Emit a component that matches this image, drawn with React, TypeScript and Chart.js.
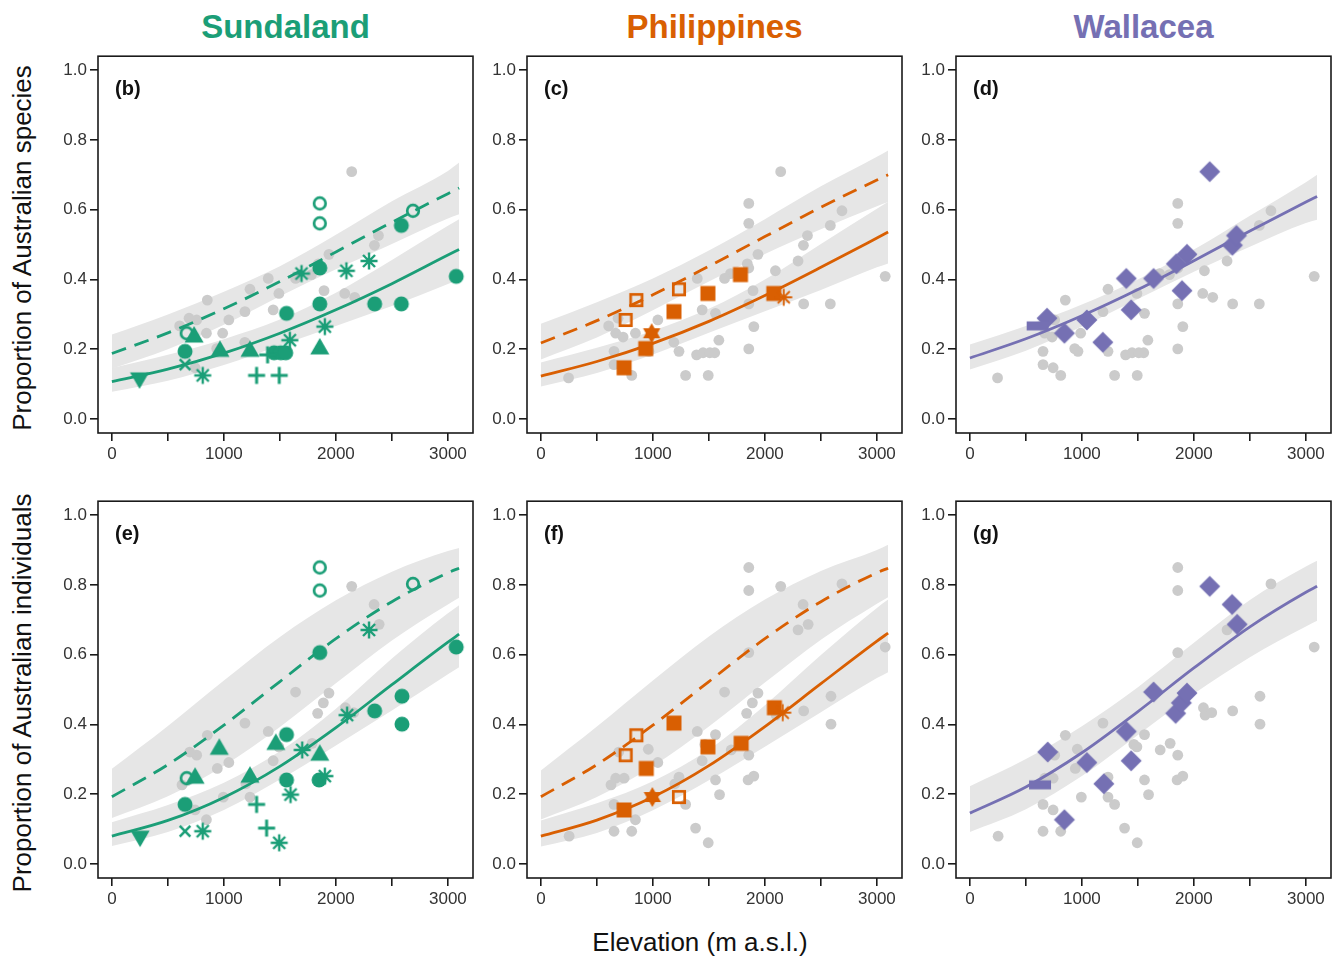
import React, { useEffect, useRef } from 'react';
import { Chart, registerables } from 'chart.js';

Chart.register(...registerables);

const FONT = '"Liberation Sans", Arial, Helvetica, sans-serif';
const GREEN = '#1b9e77';
const ORANGE = '#d95f02';
const PURPLE = '#7570b3';
const GREY_PT = '#cbcbcb';
const BAND = '#e6e6e6';

type Pt = [number, number, string];

// marker group -> shape (mountain / site symbol)
const SHAPES: Record<string, string> = {
  A: 'circle', B: 'ocircle', C: 'tri', D: 'tridown', E: 'x', F: 'ast', G: 'plus',
  H: 'square', I: 'osquare', J: 'hexstar', K: 'ast2',
  L: 'diamond', M: 'bar',
};

// elevations at which the fitted curves / bands are read
const curveX = [0, 500, 1000, 1500, 2000, 2500, 3000, 3100];
const xTicks = [0, 500, 1000, 1500, 2000, 2500, 3000];
const yTicks = [0, 0.2, 0.4, 0.6, 0.8, 1.0];

// ---------- proportion of Australian species ----------
const sundaSpecies: Pt[] = [
  [653, 0.194, 'A'], [1448, 0.19, 'A'], [1508, 0.19, 'A'], [1552, 0.19, 'A'], [1559, 0.303, 'A'],
  [1856, 0.33, 'A'], [1856, 0.433, 'A'], [2346, 0.33, 'A'], [2584, 0.33, 'A'], [2584, 0.555, 'A'], [3074, 0.409, 'A'],
  [668, 0.246, 'B'], [1856, 0.618, 'B'], [1856, 0.561, 'B'], [2688, 0.597, 'B'],
  [734, 0.235, 'C'], [965, 0.194, 'C'], [1233, 0.194, 'C'], [1856, 0.201, 'C'],
  [247, 0.118, 'D'],
  [653, 0.156, 'E'],
  [811, 0.125, 'F'], [1589, 0.226, 'F'], [1901, 0.265, 'F'], [1693, 0.417, 'F'], [2094, 0.425, 'F'], [2296, 0.453, 'F'],
  [1292, 0.125, 'G'], [1494, 0.125, 'G'], [1390, 0.184, 'G'],
];
const philSpecies: Pt[] = [
  [743, 0.147, 'H'], [936, 0.202, 'H'], [1188, 0.308, 'H'], [1491, 0.36, 'H'], [1782, 0.414, 'H'], [2079, 0.36, 'H'],
  [757, 0.284, 'I'], [852, 0.341, 'I'], [1233, 0.372, 'I'],
  [989, 0.246, 'J'],
  [2168, 0.349, 'K'],
];
const wallSpecies: Pt[] = [
  [689, 0.289, 'L'], [844, 0.246, 'L'], [1044, 0.284, 'L'], [1187, 0.22, 'L'], [1396, 0.403, 'L'],
  [1440, 0.313, 'L'], [1640, 0.403, 'L'], [1843, 0.445, 'L'], [1894, 0.368, 'L'], [1938, 0.472, 'L'],
  [2141, 0.709, 'L'], [2344, 0.498, 'L'], [2380, 0.526, 'L'],
  [605, 0.267, 'M'],
];

// ---------- proportion of Australian individuals ----------
const sundaIndiv: Pt[] = [
  [653, 0.171, 'A'], [1559, 0.371, 'A'], [1559, 0.241, 'A'], [1850, 0.241, 'A'], [1856, 0.606, 'A'],
  [2346, 0.439, 'A'], [2590, 0.481, 'A'], [2590, 0.401, 'A'], [3074, 0.622, 'A'],
  [668, 0.246, 'B'], [1856, 0.85, 'B'], [1856, 0.784, 'B'], [2688, 0.803, 'B'],
  [743, 0.246, 'C'], [959, 0.329, 'C'], [1233, 0.249, 'C'], [1464, 0.343, 'C'], [1856, 0.312, 'C'],
  [252, 0.08, 'D'],
  [653, 0.094, 'E'],
  [811, 0.094, 'F'], [1494, 0.061, 'F'], [1595, 0.199, 'F'], [1699, 0.327, 'F'], [1901, 0.252, 'F'], [2100, 0.427, 'F'], [2296, 0.671, 'F'],
  [1292, 0.171, 'G'], [1381, 0.103, 'G'],
];
const philIndiv: Pt[] = [
  [743, 0.155, 'H'], [941, 0.274, 'H'], [1188, 0.404, 'H'], [1491, 0.336, 'H'], [1788, 0.346, 'H'], [2085, 0.448, 'H'],
  [757, 0.312, 'I'], [852, 0.369, 'I'], [1233, 0.192, 'I'],
  [995, 0.192, 'J'],
  [2159, 0.434, 'K'],
];
const wallIndiv: Pt[] = [
  [695, 0.321, 'L'], [844, 0.127, 'L'], [1044, 0.291, 'L'], [1196, 0.23, 'L'], [1396, 0.38, 'L'],
  [1440, 0.296, 'L'], [1640, 0.493, 'L'], [1837, 0.432, 'L'], [1888, 0.462, 'L'], [1938, 0.49, 'L'],
  [2141, 0.796, 'L'], [2341, 0.744, 'L'], [2386, 0.687, 'L'],
  [626, 0.227, 'M'],
];

// ---------- fitted curves (values at curveX) ----------
const bSolid = [0.107, 0.143, 0.189, 0.246, 0.313, 0.388, 0.47, 0.486];
const bSolidLo = [0.078, 0.11, 0.155, 0.211, 0.267, 0.324, 0.387, 0.4];
const bSolidHi = [0.146, 0.184, 0.229, 0.285, 0.362, 0.456, 0.554, 0.573];
const bDash = [0.188, 0.247, 0.316, 0.394, 0.479, 0.564, 0.646, 0.662];
const bDashLo = [0.144, 0.2, 0.27, 0.352, 0.429, 0.502, 0.575, 0.587];
const bDashHi = [0.242, 0.3, 0.365, 0.438, 0.528, 0.624, 0.711, 0.735];

const cSolid = [0.123, 0.165, 0.217, 0.28, 0.354, 0.435, 0.519, 0.536];
const cSolidLo = [0.093, 0.132, 0.185, 0.247, 0.309, 0.37, 0.435, 0.446];
const cSolidHi = [0.162, 0.204, 0.253, 0.316, 0.4, 0.502, 0.603, 0.623];
const cDash = [0.218, 0.282, 0.356, 0.438, 0.523, 0.607, 0.685, 0.7];
const cDashLo = [0.171, 0.234, 0.312, 0.394, 0.473, 0.544, 0.61, 0.622];
const cDashHi = [0.273, 0.335, 0.403, 0.483, 0.573, 0.667, 0.752, 0.77];

const dSolid = [0.175, 0.23, 0.296, 0.371, 0.454, 0.539, 0.622, 0.638];
const dSolidLo = [0.142, 0.196, 0.265, 0.344, 0.422, 0.494, 0.562, 0.571];
const dSolidHi = [0.214, 0.267, 0.328, 0.4, 0.486, 0.583, 0.679, 0.7];

const eSolid = [0.08, 0.125, 0.191, 0.28, 0.391, 0.514, 0.636, 0.659];
const eSolidLo = [0.052, 0.092, 0.155, 0.242, 0.34, 0.44, 0.544, 0.564];
const eSolidHi = [0.12, 0.169, 0.233, 0.323, 0.445, 0.589, 0.719, 0.742];
const eDash = [0.193, 0.285, 0.398, 0.523, 0.646, 0.752, 0.835, 0.848];
const eDashLo = [0.132, 0.194, 0.282, 0.393, 0.518, 0.641, 0.744, 0.763];
const eDashHi = [0.273, 0.396, 0.526, 0.651, 0.756, 0.838, 0.897, 0.906];

const fSolid = [0.08, 0.126, 0.192, 0.282, 0.394, 0.517, 0.639, 0.662];
const fSolidLo = [0.05, 0.089, 0.154, 0.24, 0.336, 0.435, 0.533, 0.55];
const fSolidHi = [0.125, 0.174, 0.237, 0.328, 0.455, 0.599, 0.734, 0.758];
const fDash = [0.193, 0.285, 0.398, 0.523, 0.646, 0.752, 0.835, 0.848];
const fDashLo = [0.128, 0.192, 0.28, 0.394, 0.52, 0.643, 0.746, 0.765];
const fDashHi = [0.268, 0.394, 0.526, 0.652, 0.758, 0.84, 0.9, 0.915];

const gSolid = [0.146, 0.221, 0.319, 0.437, 0.562, 0.68, 0.779, 0.796];
const gSolidLo = [0.092, 0.157, 0.252, 0.37, 0.488, 0.593, 0.681, 0.697];
const gSolidHi = [0.223, 0.301, 0.395, 0.507, 0.634, 0.757, 0.853, 0.869];

// ---------- layout ----------
const FW = 375, FH = 380;
const PADL = 60, PADT = 10, PADR = 10, PADB = 40;
const COL_L = [98, 527, 956];
const ROW_T = [53, 498];

type PanelCfg = {
  tag: string; color: string; pts: Pt[]; grey: Pt[];
  solid: number[]; solidLo: number[]; solidHi: number[];
  dash?: number[]; dashLo?: number[]; dashHi?: number[];
  left: number; top: number;
};

// grey points: the other two regions' sites, shown under each region's own symbols
const PANELS: PanelCfg[] = [
  { tag: '(b)', color: GREEN, pts: sundaSpecies, grey: [...philSpecies, ...wallSpecies], solid: bSolid, solidLo: bSolidLo, solidHi: bSolidHi, dash: bDash, dashLo: bDashLo, dashHi: bDashHi, left: COL_L[0], top: ROW_T[0] },
  { tag: '(c)', color: ORANGE, pts: philSpecies, grey: [...sundaSpecies, ...wallSpecies], solid: cSolid, solidLo: cSolidLo, solidHi: cSolidHi, dash: cDash, dashLo: cDashLo, dashHi: cDashHi, left: COL_L[1], top: ROW_T[0] },
  { tag: '(d)', color: PURPLE, pts: wallSpecies, grey: [...sundaSpecies, ...philSpecies], solid: dSolid, solidLo: dSolidLo, solidHi: dSolidHi, left: COL_L[2], top: ROW_T[0] },
  { tag: '(e)', color: GREEN, pts: sundaIndiv, grey: [...philIndiv, ...wallIndiv], solid: eSolid, solidLo: eSolidLo, solidHi: eSolidHi, dash: eDash, dashLo: eDashLo, dashHi: eDashHi, left: COL_L[0], top: ROW_T[1] },
  { tag: '(f)', color: ORANGE, pts: philIndiv, grey: [...sundaIndiv, ...wallIndiv], solid: fSolid, solidLo: fSolidLo, solidHi: fSolidHi, dash: fDash, dashLo: fDashLo, dashHi: fDashHi, left: COL_L[1], top: ROW_T[1] },
  { tag: '(g)', color: PURPLE, pts: wallIndiv, grey: [...sundaIndiv, ...philIndiv], solid: gSolid, solidLo: gSolidLo, solidHi: gSolidHi, left: COL_L[2], top: ROW_T[1] },
];

const markerCache: Record<string, HTMLCanvasElement> = {};
function markerCanvas(shape: string, color: string): HTMLCanvasElement {
  const key = shape + color;
  if (markerCache[key]) return markerCache[key];
  const S = 28, m = S / 2;
  const c = document.createElement('canvas');
  c.width = S; c.height = S;
  const g = c.getContext('2d')!;
  g.fillStyle = color; g.strokeStyle = color; g.lineCap = 'butt';
  const tri = (r: number, dir: number) => {
    g.beginPath();
    g.moveTo(m, m - dir * r);
    g.lineTo(m + r * 0.866, m + dir * r * 0.5);
    g.lineTo(m - r * 0.866, m + dir * r * 0.5);
    g.closePath(); g.fill();
  };
  const lines = (r: number, angles: number[], w: number) => {
    g.lineWidth = w; g.beginPath();
    for (const a of angles) {
      const dx = Math.cos(a) * r, dy = Math.sin(a) * r;
      g.moveTo(m - dx, m - dy); g.lineTo(m + dx, m + dy);
    }
    g.stroke();
  };
  switch (shape) {
    case 'circle': g.beginPath(); g.arc(m, m, 7.5, 0, Math.PI * 2); g.fill(); break;
    case 'ocircle': g.lineWidth = 2.7; g.beginPath(); g.arc(m, m, 5.8, 0, Math.PI * 2); g.stroke(); break;
    case 'tri': tri(11, 1); break;
    case 'tridown': tri(11, -1); break;
    case 'x': lines(7.5, [Math.PI / 4, -Math.PI / 4], 2.6); break;
    case 'ast': lines(8.5, [0, Math.PI / 4, Math.PI / 2, (3 * Math.PI) / 4], 2.4); break;
    case 'ast2': lines(8.5, [0, Math.PI / 4, Math.PI / 2, (3 * Math.PI) / 4], 1.8); break;
    case 'plus': lines(8.5, [0, Math.PI / 2], 3); break;
    case 'square': g.fillRect(m - 7.5, m - 7.5, 15, 15); break;
    case 'osquare': g.lineWidth = 2.7; g.strokeRect(m - 5.7, m - 5.7, 11.4, 11.4); break;
    case 'hexstar': tri(10, 1); tri(10, -1); break;
    case 'diamond':
      g.beginPath(); g.moveTo(m, m - 10.5); g.lineTo(m + 10.5, m); g.lineTo(m, m + 10.5); g.lineTo(m - 10.5, m);
      g.closePath(); g.fill(); break;
    case 'bar': g.fillRect(m - 11, m - 4.5, 22, 9); break;
  }
  markerCache[key] = c;
  return c;
}

function Panel({ cfg }: { cfg: PanelCfg }) {
  const ref = useRef<HTMLCanvasElement>(null);
  useEffect(() => {
    const canvas = ref.current!;
    const styles = cfg.pts.map((p) => markerCanvas(SHAPES[p[2]], cfg.color));
    const toXY = (ys: number[]) => curveX.map((x, i) => ({ x, y: ys[i] }));
    const datasets: any[] = [];
    const band = (hi: number[], lo: number[]) => {
      datasets.push({ data: toXY(hi), fill: '+1', backgroundColor: BAND, borderColor: 'rgba(0,0,0,0)', borderWidth: 0, pointRadius: 0, cubicInterpolationMode: 'monotone', order: 3 });
      datasets.push({ data: toXY(lo), fill: false, borderColor: 'rgba(0,0,0,0)', borderWidth: 0, pointRadius: 0, cubicInterpolationMode: 'monotone', order: 3 });
    };
    if (cfg.dashHi && cfg.dashLo) band(cfg.dashHi, cfg.dashLo);
    band(cfg.solidHi, cfg.solidLo);
    datasets.push({
      data: cfg.grey.map((p) => ({ x: p[0], y: p[1] })), showLine: false,
      pointRadius: 5.4, pointBackgroundColor: GREY_PT, pointBorderWidth: 0, pointBorderColor: GREY_PT, order: 2,
    });
    datasets.push({ data: toXY(cfg.solid), borderColor: cfg.color, borderWidth: 2.8, pointRadius: 0, fill: false, cubicInterpolationMode: 'monotone', order: 1 });
    if (cfg.dash) {
      datasets.push({ data: toXY(cfg.dash), borderColor: cfg.color, borderWidth: 2.8, borderDash: [15, 9], pointRadius: 0, fill: false, cubicInterpolationMode: 'monotone', order: 1 });
    }
    datasets.push({
      data: cfg.pts.map((p) => ({ x: p[0], y: p[1] })), showLine: false,
      pointRadius: 6, pointStyle: (c: any) => styles[c.dataIndex], order: 0,
    });

    const framePlugin = {
      id: 'frame',
      afterDraw(chart: any) {
        const { ctx, chartArea: a } = chart;
        ctx.save();
        ctx.strokeStyle = '#1a1a1a';
        ctx.lineWidth = 1.6;
        ctx.strokeRect(a.left, a.top, a.right - a.left, a.bottom - a.top);
        ctx.fillStyle = '#111';
        ctx.font = `bold 20px ${FONT}`;
        ctx.textBaseline = 'middle';
        ctx.fillText(cfg.tag, a.left + 17, a.top + 33);
        ctx.restore();
      },
    };

    const tickFont = { family: FONT, size: 17 };
    const chart = new Chart(canvas, {
      type: 'line',
      data: { datasets },
      options: {
        animation: false,
        responsive: false,
        devicePixelRatio: 1,
        events: [],
        layout: { padding: { left: 0, top: PADT, right: PADR, bottom: 0 } },
        plugins: { legend: { display: false }, tooltip: { enabled: false } },
        scales: {
          x: {
            type: 'linear', min: -124, max: 3224,
            afterBuildTicks: (s: any) => { s.ticks = xTicks.map((v) => ({ value: v })); },
            afterFit: (s: any) => { s.height = PADB; },
            ticks: {
              autoSkip: false, maxRotation: 0, minRotation: 0, padding: 3, color: '#333', font: tickFont,
              callback: (v: any) => (Number(v) % 1000 === 0 ? String(v) : ''),
            },
            grid: { drawOnChartArea: false, drawTicks: true, tickLength: 8, color: '#1a1a1a', lineWidth: 1.6 },
            border: { display: false },
          },
          y: {
            type: 'linear', min: -0.04, max: 1.04,
            afterBuildTicks: (s: any) => { s.ticks = yTicks.map((v) => ({ value: v })); },
            afterFit: (s: any) => { s.width = PADL; },
            ticks: {
              autoSkip: false, padding: 3, color: '#333', font: tickFont,
              callback: (v: any) => Number(v).toFixed(1),
            },
            grid: { drawOnChartArea: false, drawTicks: true, tickLength: 8, color: '#1a1a1a', lineWidth: 1.6 },
            border: { display: false },
          },
        },
      } as any,
      plugins: [framePlugin],
    });
    return () => chart.destroy();
  }, [cfg]);

  const w = FW + PADL + PADR, h = FH + PADT + PADB;
  return (
    <canvas
      ref={ref}
      width={w}
      height={h}
      style={{ position: 'absolute', left: cfg.left - PADL, top: cfg.top - PADT, width: w, height: h }}
    />
  );
}

const REGIONS = [
  { name: 'Sundaland', color: GREEN },
  { name: 'Philippines', color: ORANGE },
  { name: 'Wallacea', color: PURPLE },
];
const Y_TITLES = ['Proportion of Australian species', 'Proportion of Australian individuals'];
const X_TITLE = 'Elevation (m a.s.l.)';

export default function App() {
  return (
    <div style={{ position: 'absolute', left: 0, top: 0, width: 1343, height: 959, background: '#fff', overflow: 'hidden', fontFamily: FONT }}>
      {REGIONS.map((r, i) => (
        <div key={r.name} style={{
          position: 'absolute', left: COL_L[i] + FW / 2 - 200, top: 8, width: 400, height: 38, lineHeight: '38px',
          textAlign: 'center', fontWeight: 'bold', fontSize: 33, color: r.color,
        }}>{r.name}</div>
      ))}
      {Y_TITLES.map((t, i) => (
        <div key={t} style={{
          position: 'absolute', left: 22 - 250, top: ROW_T[i] + 195 - 16, width: 500, height: 32, lineHeight: '32px',
          textAlign: 'center', fontSize: 26, color: '#111', transform: 'rotate(-90deg)', whiteSpace: 'nowrap',
        }}>{t}</div>
      ))}
      <div style={{
        position: 'absolute', left: 700 - 200, top: 942 - 16, width: 400, height: 32, lineHeight: '32px',
        textAlign: 'center', fontSize: 26, color: '#111',
      }}>{X_TITLE}</div>
      {PANELS.map((p) => <Panel key={p.tag} cfg={p} />)}
    </div>
  );
}
